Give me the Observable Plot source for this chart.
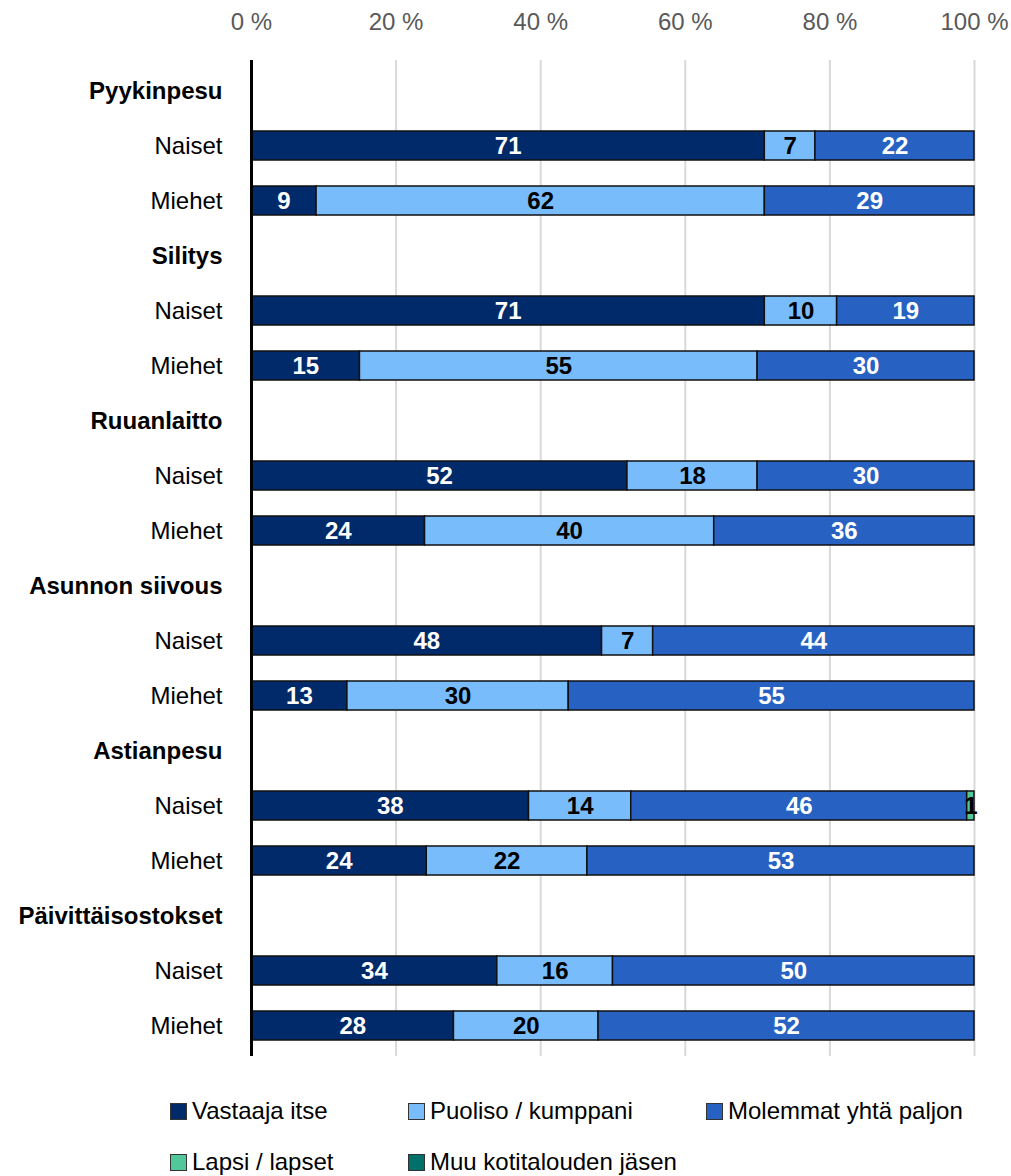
<!DOCTYPE html>
<html>
<head>
<meta charset="utf-8">
<script src="https://cdn.jsdelivr.net/npm/d3@7"></script>
<script src="https://cdn.jsdelivr.net/npm/@observablehq/plot@0.6"></script>
<style>
  html, body { margin: 0; padding: 0; background: #fff; }
  body { width: 1011px; font-family: "Liberation Sans", Arial, sans-serif; }
  #legend { position: relative; height: 100px; font-size: 24px; color: #000; }
  .item { position: absolute; display: flex; align-items: center; white-space: nowrap; }
  .sw { width: 15px; height: 15px; border: 1.5px solid #333; margin-right: 5px; box-sizing: content-box; }
</style>
</head>
<body>
<div id="chart"></div>
<div id="legend"></div>
<script>
const tasks = ["Pyykinpesu", "Silitys", "Ruuanlaitto", "Asunnon siivous", "Astianpesu", "Päivittäisostokset"];
const groups = ["Naiset", "Miehet"];
const seriesNames = ["Vastaaja itse", "Puoliso / kumppani", "Molemmat yhtä paljon", "Lapsi / lapset", "Muu kotitalouden jäsen"];
const seriesColors = ["#012a6b", "#78bcfc", "#2762c3", "#52c79a", "#00716a"];
// values per row: Pyykinpesu N, M, Silitys N, M, Ruuanlaitto N, M, Asunnon siivous N, M, Astianpesu N, M, Päivittäisostokset N, M
const vastaajaItse = [71, 9, 71, 15, 52, 24, 48, 13, 38, 24, 34, 28];
const puoliso      = [7, 62, 10, 55, 18, 40, 7, 30, 14, 22, 16, 20];
const molemmat     = [22, 29, 19, 30, 30, 36, 44, 55, 46, 53, 50, 52];
const lapsi        = [0, 0, 0, 0, 0, 0, 0, 0, 1, 0, 0, 0];
const muu          = [0, 0, 0, 0, 0, 0, 0, 0, 0, 0, 0, 0];
const xTicks = [0, 20, 40, 60, 80, 100];

const seriesValues = [vastaajaItse, puoliso, molemmat, lapsi, muu];
const darkSeries = new Set(["Vastaaja itse", "Molemmat yhtä paljon", "Muu kotitalouden jäsen"]);

const keys = [];
const headerKeys = [];
const subKeys = [];
tasks.forEach(t => {
  keys.push(t); headerKeys.push(t);
  groups.forEach(g => { const k = t + "|" + g; keys.push(k); subKeys.push(k); });
});

const data = [];
tasks.forEach((t, ti) => {
  groups.forEach((g, gi) => {
    const row = ti * 2 + gi;
    seriesNames.forEach((s, si) => {
      data.push({key: t + "|" + g, series: s, value: seriesValues[si][row]});
    });
  });
});

const fmtY = d => d.includes("|") ? d.split("|")[1] : d;
const font = '"Liberation Sans", Arial, sans-serif';

const stackOpts = {x: "value", y: "key", z: "series", order: seriesNames, offset: "normalize"};

const chart = Plot.plot({
  width: 1011,
  height: 1076,
  marginLeft: 251,
  marginRight: 37,
  marginTop: 60,
  marginBottom: 20,
  style: {fontSize: "24px", fontFamily: font, background: "#fff", color: "#000"},
  x: {domain: [0, 1], label: null},
  y: {domain: keys, padding: 0, label: null},
  color: {domain: seriesNames, range: seriesColors},
  marks: [
    Plot.gridX(xTicks.filter(d => d > 0).map(d => d / 100), {stroke: "#d9d9d9", strokeOpacity: 1, strokeWidth: 2}),
    Plot.axisX(xTicks.map(d => d / 100), {anchor: "top", tickSize: 0, tickPadding: 31, fill: "#595959", label: null,
      tickFormat: d => Math.round(d * 100) + " %", fontSize: 24}),
    Plot.axisY(headerKeys, {tickSize: 0, tickPadding: 29, fontWeight: "bold", tickFormat: fmtY, fontSize: 24, fill: "#000", label: null}),
    Plot.axisY(subKeys, {tickSize: 0, tickPadding: 29, tickFormat: fmtY, fontSize: 24, fill: "#000", label: null}),
    Plot.barX(data.filter(d => d.value > 0), Plot.stackX({...stackOpts, fill: "series", stroke: "#111", strokeWidth: 1.5, insetTop: 13, insetBottom: 13, insetLeft: 0, insetRight: 0})),
    Plot.text(data, Plot.stackX({...stackOpts, text: d => d.value > 0 ? String(d.value) : "", fill: d => darkSeries.has(d.series) ? "#fff" : "#000",
      fontWeight: "bold", fontSize: 24})),
    Plot.ruleX([0], {stroke: "#000", strokeWidth: 3})
  ]
});
document.getElementById("chart").appendChild(chart);

// legend
const legend = document.getElementById("legend");
const positions = [[170, 35], [408, 35], [706, 35], [170, 86], [408, 86]];
seriesNames.forEach((s, i) => {
  const it = document.createElement("div");
  it.className = "item";
  it.style.left = positions[i][0] + "px";
  it.style.top = (positions[i][1] - 14) + "px";
  const sw = document.createElement("span");
  sw.className = "sw";
  sw.style.background = seriesColors[i];
  const tx = document.createElement("span");
  tx.textContent = s;
  it.appendChild(sw); it.appendChild(tx);
  legend.appendChild(it);
});
</script>
</body>
</html>
